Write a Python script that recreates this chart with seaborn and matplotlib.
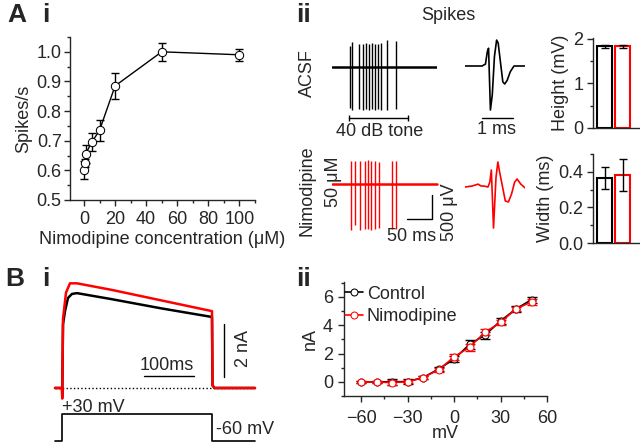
import matplotlib
matplotlib.use("Agg")
import matplotlib.pyplot as plt
from matplotlib.ticker import MultipleLocator, FormatStrFormatter
import pandas as pd
import seaborn as sns

# ---- data ----
conc = [0, 0.5, 1, 5, 10, 20, 50, 100]
rate = [0.60, 0.625, 0.655, 0.695, 0.735, 0.885, 1.0, 0.99]
rate_err = [0.03, 0.015, 0.03, 0.03, 0.035, 0.045, 0.03, 0.02]

conds = ["ACSF", "Nimodipine"]
height_vals = [1.83, 1.83]
height_err = [0.03, 0.03]
width_vals = [0.365, 0.38]
width_err = [0.06, 0.09]

# spike trains (ms, uV)
acsf_spike_t = [36, 40, 54, 62, 68, 74, 80, 86, 92, 98, 110, 127]
acsf_spike_up = [440, 520, 470, 480, 500, 480, 500, 470, 480, 500, 560, 540]
acsf_spike_dn = [-850, -900, -880, -900, -880, -900, -870, -900, -880, -900, -900, -880]
nimo_spike_t = [37, 45, 56, 65, 72, 78, 85, 94, 120, 128]
nimo_spike_up = [470, 470, 480, 470, 490, 480, 470, 460, 470, 480]
nimo_spike_dn = [-960, -860, -960, -940, -940, -960, -940, -920, -940, -940]
tone_on, tone_off = 34, 152

# single spike waveforms (ms, uV)
acsf_wave_t = [0, 0.55, 0.66, 0.72, 0.76, 0.82, 0.88, 0.95, 1.02, 1.07, 1.14, 1.22, 1.28, 1.36, 1.46, 1.58, 1.94]
acsf_wave_v = [0, 0, 40, 300, 370, -917, -600, 200, 540, 480, 100, -330, -375, -300, -120, 0, 0]
nimo_wave_t = [0, 0.23, 0.42, 0.52, 0.61, 0.74, 0.80, 0.85, 0.92, 1.00, 1.06, 1.12, 1.20, 1.30, 1.40, 1.50, 1.60, 1.68, 1.80, 1.94]
nimo_wave_v = [0, 20, 60, 20, 20, 0, 100, 354, -854, 200, 521, 300, 40, -290, -312, -150, 100, 167, 60, -20]

# whole-cell currents (ms, nA)
ctrl_cur_t = [-14, 0, 0.5, 2, 6, 12, 20, 30, 100, 200, 300, 301, 305, 386]
ctrl_cur_i = [0, 0, -0.3, 2.4, 2.9, 3.4, 3.55, 3.58, 3.35, 3.0, 2.68, 0.1, 0, 0]
nimo_cur_t = [-14, 0, 0.5, 2, 8, 16, 30, 100, 200, 300, 301, 305, 386]
nimo_cur_i = [0, 0, -0.4, 2.6, 3.6, 3.95, 3.95, 3.7, 3.3, 2.9, 0.1, 0, 0]
step_t = [-14, 0, 0, 300, 300, 386]
step_v = [-60, -60, 30, 30, -60, -60]

# I-V curve
iv_mv = [-60, -50, -40, -30, -20, -10, 0, 10, 20, 30, 40, 50]
iv_ctrl = [0, 0, 0, 0.02, 0.3, 0.9, 1.6, 2.65, 3.3, 4.3, 5.15, 5.8]
iv_ctrl_err = [0.05, 0.05, 0.2, 0.15, 0.1, 0.15, 0.2, 0.3, 0.25, 0.2, 0.2, 0.2]
iv_nimo = [0, -0.02, -0.05, 0, 0.3, 0.85, 1.75, 2.45, 3.5, 4.2, 5.15, 5.65]
iv_nimo_err = [0.05, 0.05, 0.15, 0.1, 0.1, 0.15, 0.2, 0.25, 0.2, 0.2, 0.15, 0.2]

# ---- style ----
FS = 13
sns.set_style("ticks")
plt.rcParams["font.family"] = ["Liberation Sans", "DejaVu Sans"]
plt.rcParams["font.size"] = FS
plt.rcParams["axes.linewidth"] = 1.0
plt.rcParams["xtick.labelsize"] = FS
plt.rcParams["ytick.labelsize"] = FS
plt.rcParams["axes.labelsize"] = FS

W, H = 640, 446
fig = plt.figure(figsize=(6.4, 4.46), dpi=100)


def px_ax(x0, y0, x1, y1, off=False):
    ax = fig.add_axes([x0 / W, 1 - y1 / H, (x1 - x0) / W, (y1 - y0) / H])
    ax.patch.set_alpha(0)
    if off:
        ax.set_axis_off()
    return ax


def tick_style(ax, xpad=2, ypad=2):
    ax.tick_params(which="major", direction="out", length=4, width=1)
    ax.tick_params(which="minor", direction="out", length=2, width=1)
    ax.tick_params(axis="x", pad=xpad)
    ax.tick_params(axis="y", pad=ypad)
    sns.despine(ax=ax)


# panel letters
for x, y, s in [(7, 3, "A"), (42, 3, "i"), (296, 3, "ii"),
                (5, 267, "B"), (42, 267, "i"), (296, 267, "ii")]:
    fig.text(x / W, 1 - y / H, s, fontsize=19, fontweight="bold", va="top", ha="left")

# ---- A i ----
ax = px_ax(70, 37, 255, 200)
ax.errorbar(conc, rate, yerr=rate_err, fmt="none", ecolor="black", capsize=3, lw=1, zorder=2)
sns.lineplot(x=conc, y=rate, ax=ax, color="black", lw=1, marker="o", markersize=6,
             markerfacecolor="white", markeredgecolor="black", zorder=3)
ax.set_xlim(-9, 110)
ax.set_ylim(0.5, 1.05)
ax.xaxis.set_major_locator(MultipleLocator(20))
ax.xaxis.set_minor_locator(MultipleLocator(10))
ax.yaxis.set_major_locator(MultipleLocator(0.1))
ax.yaxis.set_minor_locator(MultipleLocator(0.05))
ax.yaxis.set_major_formatter(FormatStrFormatter("%.1f"))
ax.set_xlabel("Nimodipine concentration (μM)", labelpad=2)
ax.set_ylabel("Spikes/s", labelpad=3)
tick_style(ax, xpad=4)

# ---- A ii traces ----
fig.text(448 / W, 1 - 15 / H, "Spikes", fontsize=FS, ha="center", va="center")
fig.text(307 / W, 1 - 73 / H, "ACSF", fontsize=FS, rotation=90, ha="center", va="center")
fig.text(307 / W, 1 - 191 / H, "Nimodipine", fontsize=FS, rotation=90, ha="center", va="center")
fig.text(334 / W, 1 - 182 / H, "50 μM", fontsize=FS, rotation=90, ha="center", va="center")

uv = 500 / 24  # uV per pixel

ax = px_ax(332, 30, 437, 140, off=True)
ax.set_xlim(0, 210)
ax.set_ylim(-(140 - 67) * uv, (67 - 30) * uv)
ax.plot([0, 210], [0, 0], color="black", lw=1.8)
ax.vlines(acsf_spike_t, acsf_spike_dn, acsf_spike_up, color="black", lw=1.0)
ax.plot([tone_on, tone_off], [-1060, -1060], color="black", lw=1)
ax.vlines([tone_on, tone_off], -1120, -1000, color="black", lw=1)
ax.text(96, -1354, "40 dB tone", ha="center", va="center", fontsize=FS)

ax = px_ax(332, 150, 460, 245, off=True)
ax.set_xlim(0, 256)
ax.set_ylim(-(245 - 184) * uv, (184 - 150) * uv)
ax.plot([0, 210], [0, 0], color="red", lw=1.8)
ax.vlines(nimo_spike_t, nimo_spike_dn, nimo_spike_up, color="red", lw=1.0)
ax.plot([150, 200, 200], [-729, -729, -229], color="black", lw=1)
ax.text(160, -1104, "50 ms", ha="center", va="center", fontsize=FS)
ax.text(234, -583, "500 μV", ha="center", va="center", rotation=90, fontsize=FS)

ax = px_ax(465, 30, 525, 140, off=True)
ax.set_xlim(0, 60 / 31)
ax.set_ylim(-(140 - 66) * uv, (66 - 30) * uv)
ax.plot(acsf_wave_t, acsf_wave_v, color="black", lw=1.2)
ax.plot([0.55, 1.55], [-1083, -1083], color="black", lw=1)
ax.text(1.03, -1333, "1 ms", ha="center", va="center", fontsize=FS)

ax = px_ax(465, 150, 525, 245, off=True)
ax.set_xlim(0, 60 / 31)
ax.set_ylim(-(245 - 187) * uv, (187 - 150) * uv)
ax.plot(nimo_wave_t, nimo_wave_v, color="red", lw=1.2)

# ---- A ii bars ----
for (y0, y1, vals, errs, top, major, minor, fmt, label) in [
        (38, 128, height_vals, height_err, 2.02, 1, 0.5, "%d", "Height (mV)"),
        (154, 243, width_vals, width_err, 0.5, 0.2, 0.1, "%.1f", "Width (ms)")]:
    ax = px_ax(593, y0, 640, y1)
    df = pd.DataFrame({"cond": conds, "val": vals})
    sns.barplot(data=df, x="cond", y="val", hue="cond", palette=["black", "red"],
                fill=False, width=0.88, linewidth=1.5, legend=False, ax=ax)
    ax.errorbar([0, 1], vals, yerr=errs, fmt="none", ecolor="black", capsize=3, lw=1)
    ax.set_xlim(-0.64, 1.97)
    ax.set_ylim(0, top)
    ax.yaxis.set_major_locator(MultipleLocator(major))
    ax.yaxis.set_minor_locator(MultipleLocator(minor))
    ax.yaxis.set_major_formatter(FormatStrFormatter(fmt))
    ax.set_xticks([])
    ax.set_xlabel("")
    ax.set_ylabel(label, labelpad=3)
    tick_style(ax, ypad=3)

# ---- B i ----
ax = px_ax(50, 260, 300, 446, off=True)
ax.set_xlim(-24, 476)
ax.set_ylim(-(446 - 388) / 26.5, (388 - 260) / 26.5)
ax.plot([-14, 386], [0, 0], color="black", lw=1, ls=":")
ax.plot(ctrl_cur_t, ctrl_cur_i, color="black", lw=1.8)
ax.plot(nimo_cur_t, nimo_cur_i, color="red", lw=1.8)
ax.plot([164, 264], [0.45, 0.45], color="black", lw=1)
ax.text(210, 0.85, "100ms", ha="center", va="center", fontsize=FS)
ax.plot([324, 324], [0.42, 2.42], color="black", lw=1)
ax.text(362, 1.5, "2 nA", ha="center", va="center", rotation=90, fontsize=FS)

ax = px_ax(50, 395, 300, 446, off=True)
ax.set_xlim(-24, 476)
ax.set_ylim(-60 - 5 / 0.3, -60 + 46 / 0.3)
ax.plot(step_t, step_v, color="black", lw=1.2)
ax.text(0, 53, "+30 mV", ha="left", va="center", fontsize=FS)
ax.text(308, -20, "-60 mV", ha="left", va="center", fontsize=FS)

# ---- B ii ----
ax = px_ax(344, 282, 547, 396)
handles = []
for vals, errs, col, lab in [(iv_ctrl, iv_ctrl_err, "black", "Control"),
                             (iv_nimo, iv_nimo_err, "red", "Nimodipine")]:
    ax.errorbar(iv_mv, vals, yerr=errs, fmt="none", ecolor=col, capsize=3.5, lw=1.2)
    sns.lineplot(x=iv_mv, y=vals, ax=ax, color=col, lw=1.2, marker="o", markersize=5,
                 markerfacecolor="white", markeredgecolor=col, label=lab, legend=False)
    handles.append(ax.lines[-1])
ax.legend(handles=handles, labels=["Control", "Nimodipine"], loc="upper left",
          bbox_to_anchor=(-0.03, 1.03), frameon=False, handlelength=1.0,
          handletextpad=0.2, labelspacing=0.3, fontsize=FS, borderaxespad=0)
ax.set_xlim(-71, 60)
ax.set_ylim(-1, 7.05)
ax.xaxis.set_major_locator(MultipleLocator(30))
ax.xaxis.set_minor_locator(MultipleLocator(15))
ax.yaxis.set_major_locator(MultipleLocator(2))
ax.yaxis.set_minor_locator(MultipleLocator(1))
ax.set_xlabel("mV", labelpad=-1)
ax.set_ylabel("nA", labelpad=3)
tick_style(ax, xpad=6, ypad=4)

fig.savefig("out.png", dpi=100)
